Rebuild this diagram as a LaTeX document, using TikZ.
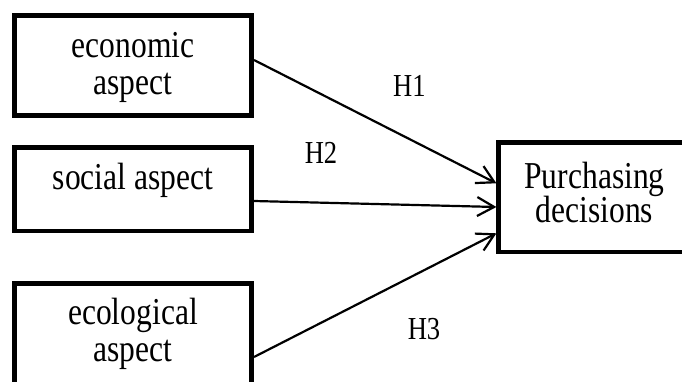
\documentclass[tikz,border=0pt]{standalone}
\usepackage{fontspec}
\setmainfont{Liberation Serif}
\newfontfamily\condfont[FakeStretch=0.83]{Liberation Serif}
\usetikzlibrary{arrows.meta}
\begin{document}
\begin{tikzpicture}[x=1pt,y=-1pt,
  box/.style={draw, line width=4.6pt, inner sep=0pt, outer sep=0pt},
  txt/.style={inner sep=0pt, anchor=base, font=\condfont\fontsize{38}{44}\selectfont},
  hlab/.style={inner sep=0pt, anchor=base, font=\condfont\fontsize{32}{38}\selectfont},
  arr/.style={line width=2.2pt, -{Straight Barb[length=17pt, width=19pt]}}]
\useasboundingbox (0,0) rectangle (682,381);
\clip (0,0) rectangle (682,381);
% boxes
\node[box, minimum width=237.4pt, minimum height=100.4pt] (econ) at (133,65.5) {};
\node[box, minimum width=237.4pt, minimum height=83.3pt] (soc) at (133,189.15) {};
\node[box, minimum width=237.4pt, minimum height=116.7pt] (eco) at (133,341.65) {};
\node[box, minimum width=221.3pt, minimum height=109.3pt] (pur) at (609.35,197.35) {};
% texts
\node[txt] (econA) at (133,57) {economic};
\node[txt] (econB) at (133,94) {aspect};
\node[txt] (socA) at (133,189.3) {social aspect};
\node[txt] (ecoA) at (133,324.5) {ecological};
\node[txt] (ecoB) at (133,361.7) {aspect};
\node[txt] (purA) at (594.5,188) {Purchasing};
\node[txt] (purB) at (594.5,222.8) {decisions};
% connectors
\draw[arr] ([xshift=2.3pt]econ.east |- 0,60) -- ([xshift=-2.3pt]pur.west |- 0,183.3);
\draw[arr] ([xshift=2.3pt]soc.east |- 0,201) -- ([xshift=-2.3pt]pur.west |- 0,207);
\draw[arr] ([xshift=2.3pt]eco.east |- 0,357) -- ([xshift=-2.3pt]pur.west |- 0,233.3);
% hypothesis labels
\node[hlab] (h1) at (409.3,96) {H1};
\node[hlab] (h2) at (321,163.5) {H2};
\node[hlab] (h3) at (424,339) {H3};
\end{tikzpicture}
\end{document}
